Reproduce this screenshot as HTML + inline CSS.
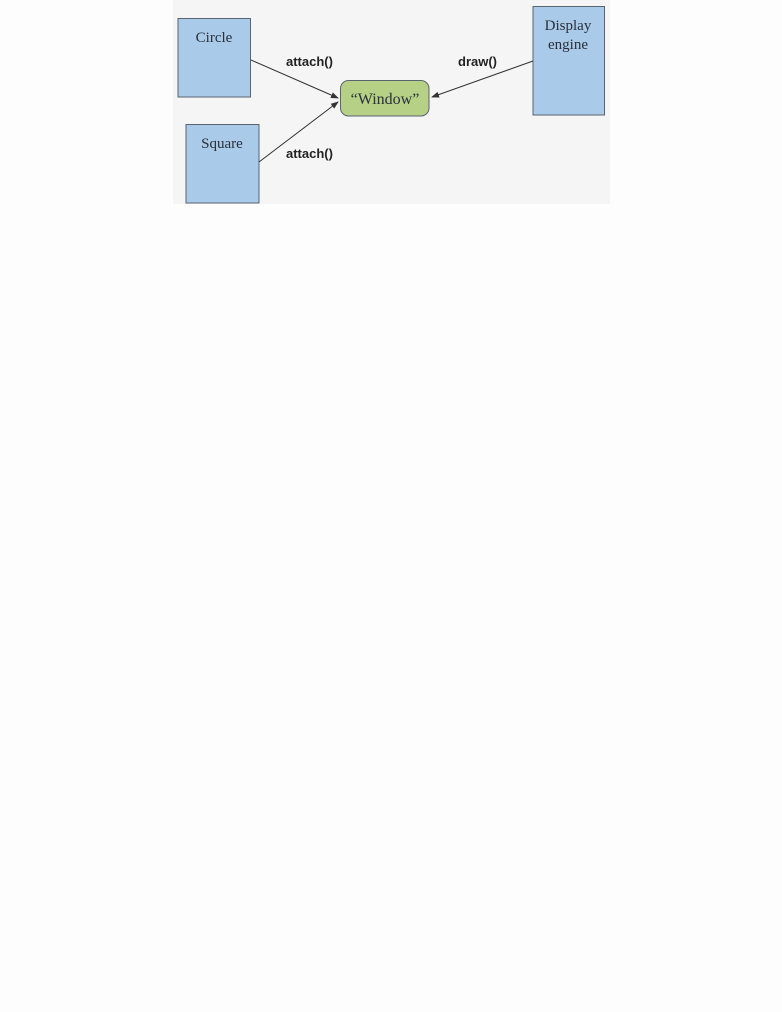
<!DOCTYPE html>
<html><head><meta charset="utf-8"><style>
html,body{margin:0;padding:0;background:#fdfdfd;width:782px;height:1012px;overflow:hidden}
svg{position:absolute;left:0;top:0}
</style></head><body>
<svg width="782" height="1012" viewBox="0 0 782 1012">
<defs><marker id="a" markerWidth="8" markerHeight="6" refX="7" refY="3" orient="auto" markerUnits="userSpaceOnUse"><path d="M0,0 L8,3 L0,6 z" fill="#333"/></marker></defs>
<rect x="173" y="0" width="437" height="204" fill="#f5f5f5"/>
<rect x="178" y="18.5" width="72.5" height="78.5" fill="#a9cbe9" stroke="#5a6470" stroke-width="1"/>
<rect x="186" y="124.5" width="73" height="78.5" fill="#a9cbe9" stroke="#5a6470" stroke-width="1"/>
<rect x="533" y="6.5" width="71.5" height="108.5" fill="#a9cbe9" stroke="#5a6470" stroke-width="1"/>
<rect x="340.5" y="80.5" width="88.5" height="35.5" rx="8" fill="#b6d185" stroke="#5a6470" stroke-width="1"/>
<g font-family="Liberation Serif, serif" font-size="15" fill="#2a2f3a" text-anchor="middle">
<text x="214" y="42">Circle</text>
<text x="222" y="148">Square</text>
<text x="568" y="30">Display</text>
<text x="568" y="49">engine</text>
<text x="385" y="104" font-size="16">“Window”</text>
</g>
<g font-family="Liberation Sans, sans-serif" font-size="13" font-weight="bold" fill="#222">
<text x="286" y="66">attach()</text>
<text x="286" y="158">attach()</text>
<text x="458" y="66">draw()</text>
</g>
<g stroke="#333" stroke-width="1" fill="none">
<line x1="251" y1="60" x2="338" y2="98" marker-end="url(#a)"/>
<line x1="259" y1="162" x2="338" y2="102" marker-end="url(#a)"/>
<line x1="533" y1="61" x2="432" y2="97" marker-end="url(#a)"/>
</g>
</svg>
</body></html>
